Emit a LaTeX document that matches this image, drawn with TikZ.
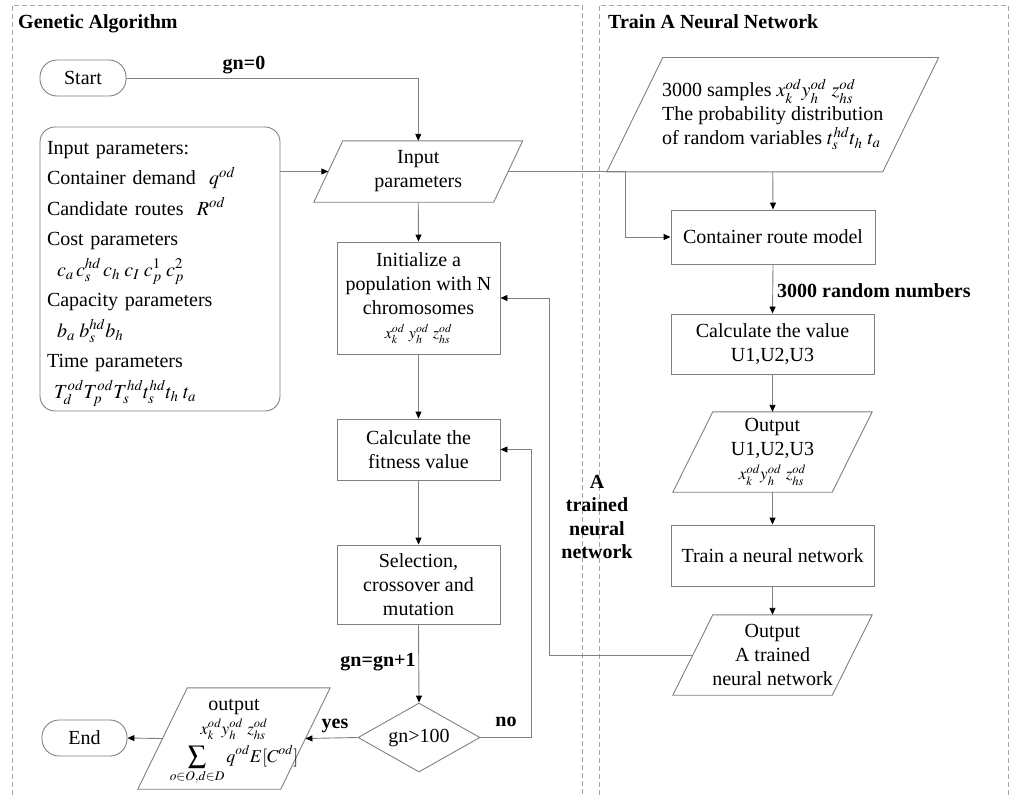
\documentclass[tikz,border=0pt]{standalone}
\usepackage{mathptmx}
\usepackage[no-math]{fontspec}
\setmainfont{Liberation Serif}
\usetikzlibrary{arrows.meta,shapes.geometric}
\definecolor{lc}{RGB}{128,128,128}
\definecolor{dc}{RGB}{165,165,165}
\newcommand\paraout[2]{\draw[boxline] ([xshift=#2]#1.north west) -- ([xshift=#2]#1.north east) -- ([xshift=-#2]#1.south east) -- ([xshift=-#2]#1.south west) -- cycle;}
\tikzset{
 base/.style={font=\fontsize{20}{24}\selectfont, inner sep=0pt},
 boxline/.style={draw=lc, line width=0.9pt},
 proc/.style={base, boxline, rectangle, align=center},
 term/.style={base, boxline, rectangle, rounded corners=17pt},
 iobox/.style={base, align=center},
 conn/.style={draw=lc, line width=0.9pt, -{Triangle[length=7pt,width=6pt,color=black]}},
 lab/.style={inner sep=0pt, font=\fontsize{20}{24}\selectfont\bfseries, align=center},
 panel/.style={draw=dc, dash pattern=on 5pt off 3pt, line width=0.7pt}
}
\begin{document}
\begin{tikzpicture}[x=1pt,y=-1pt]
\useasboundingbox (0,0) rectangle (1011,795);
% panels
\draw[panel] (12,795) -- (12,5) -- (582,5) -- (582,795);
\draw[panel] (599,795) -- (599,5) -- (1008,5) -- (1008,795);
\node[lab, anchor=base west] (t1) at (18,28) {Genetic Algorithm};
\node[lab, anchor=base west] (t2) at (608,28) {Train A Neural Network};
% left column
\node[term, minimum width=86pt, minimum height=36pt] (start) at (83,78) {Start};
\node[base, boxline, rounded corners=15pt, minimum width=240pt, minimum height=284pt] (inbox) at (160,269) {};
\node[base, align=left, font=\fontsize{20}{30.5}\selectfont, text width=226pt] (inboxt) at (160,273.5) {Input parameters:\\
Container demand\ \ $q^{od}$\\
Candidate routes\ \ $R^{od}$\\
Cost parameters\\
\hspace*{10pt}$c_a\,c_s^{hd}\,c_h\;c_I\;c_p^1\;c_p^2$\\
Capacity parameters\\
\hspace*{10pt}$b_a\;b_s^{hd}b_h$\\
Time parameters\\
\hspace*{7pt}$T_d^{od}T_p^{od}T_s^{hd}t_s^{hd}t_h\;t_a$};
\node[iobox, minimum width=179.5pt, minimum height=61pt] (ip) at (418.25,171.5) {Input\\parameters};
\paraout{ip}{14.5pt}
\node[proc, minimum width=163pt, minimum height=112pt] (init) at (418.5,298) {Initialize a\\population with N\\chromosomes\\{\fontsize{16}{20}\selectfont$x_k^{od}\ y_h^{od}\ z_{hs}^{od}$}};
\node[proc, minimum width=163pt, minimum height=61pt] (fit) at (418.5,449.5) {Calculate the\\fitness value};
\node[proc, minimum width=163pt, minimum height=79pt] (sel) at (418.5,584.5) {Selection,\\crossover and\\mutation};
\node[base, boxline, diamond, aspect=1.77, minimum width=122pt, minimum height=69pt] (dia) at (419,737.5) {gn>100};
\node[iobox, minimum width=142.5pt, minimum height=101pt] (out) at (234,738.5) {};
\paraout{out}{24.75pt}
\node[iobox] (outt) at (234,742) {output\\{\fontsize{17}{20}\selectfont$x_k^{od}y_h^{od}\ z_{hs}^{od}$}\\[4pt]{\fontsize{18}{20}\selectfont$\displaystyle\sum_{o\in O,d\in D} q^{od}E[C^{od}]$}};
\node[term, minimum width=85pt, minimum height=36pt] (end) at (84.5,738) {End};
% right column
\node[iobox, align=left, minimum width=275.5pt, minimum height=114pt] (samp) at (772.75,114.7) {3000 samples $x_k^{od}y_h^{od}\ z_{hs}^{od}$\\The probability distribution\\of random variables $t_s^{hd}t_h\ t_a$};
\paraout{samp}{28pt}
\node[proc, minimum width=204pt, minimum height=54pt] (crm) at (773,237) {Container route model};
\node[proc, minimum width=203pt, minimum height=60pt] (cv) at (772.5,344) {Calculate the value\\U1,U2,U3};
\node[iobox, minimum width=159pt, minimum height=80pt] (ou) at (772.5,452) {Output\\U1,U2,U3\\{\fontsize{17}{20}\selectfont$x_k^{od}y_h^{od}\ z_{hs}^{od}$}};
\paraout{ou}{20pt}
\node[proc, minimum width=203pt, minimum height=61pt] (tr) at (772.5,555.5) {Train a neural network};
\node[iobox, minimum width=159pt, minimum height=80pt] (ot) at (772.5,655) {Output\\A trained\\neural network};
\paraout{ot}{20pt}
% helper coordinates
\coordinate (noc) at (531,0);
\coordinate (jn) at (625,0);
\coordinate (fb) at (549,0);
% connectors
\draw[conn] (start.east) -| (ip.north);
\draw[conn] (inbox.east |- ip.west) -- (ip.west);
\draw[conn] (ip.south) -- (init.north);
\draw[conn] (init.south) -- (fit.north);
\draw[conn] (fit.south) -- (sel.north);
\draw[conn] (sel.south) -- (dia.north);
\draw[conn] (dia.west) -- (out.east);
\draw[conn] (out.west) -- (end.east);
\draw[conn] (dia.east) -- (dia.east -| noc) |- (fit.east);
\draw[conn] (ip.east) -- (ip.east -| jn) |- (crm.west);
\draw[conn] (samp.south) -- (crm.north);
\draw[conn] (crm.south) -- (cv.north);
\draw[conn] (cv.south) -- (ou.north);
\draw[conn] (ou.south) -- (tr.north);
\draw[conn] (tr.south) -- (ot.north);
\draw[conn] (ot.west) -- (ot.west -| fb) |- (init.east);
% labels
\node[lab] (l1) at (244,65) {gn=0};
\node[lab] (l2) at (378,662) {gn=gn+1};
\node[lab] (l3) at (335,726) {yes};
\node[lab] (l4) at (506,722) {no};
\node[lab, anchor=west] (l5) at (777,291) {3000 random numbers};
\node[lab, font=\fontsize{20}{23.5}\selectfont\bfseries] (l6) at (597,517) {A\\trained\\neural\\network};
\end{tikzpicture}
\end{document}
